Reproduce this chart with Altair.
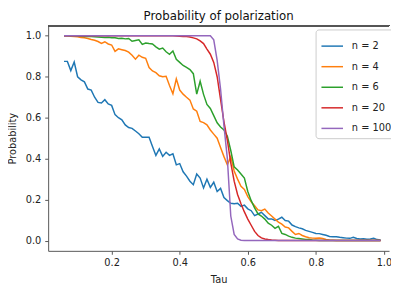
import altair as alt
import pandas as pd

tau = [0.06, 0.07, 0.08, 0.09,
       0.10, 0.11, 0.12, 0.13, 0.14, 0.15, 0.16, 0.17, 0.18, 0.19,
       0.20, 0.21, 0.22, 0.23, 0.24, 0.25, 0.26, 0.27, 0.28, 0.29,
       0.30, 0.31, 0.32, 0.33, 0.34, 0.35, 0.36, 0.37, 0.38, 0.39,
       0.40, 0.41, 0.42, 0.43, 0.44, 0.45, 0.46, 0.47, 0.48, 0.49,
       0.50, 0.51, 0.52, 0.53, 0.54, 0.55, 0.56, 0.57, 0.58, 0.59,
       0.60, 0.61, 0.62, 0.63, 0.64, 0.65, 0.66, 0.67, 0.68, 0.69,
       0.70, 0.71, 0.72, 0.73, 0.74, 0.75, 0.76, 0.77, 0.78, 0.79,
       0.80, 0.81, 0.82, 0.83, 0.84, 0.85, 0.86, 0.87, 0.88, 0.89,
       0.90, 0.91, 0.92, 0.93, 0.94, 0.95, 0.96, 0.97, 0.98, 0.99]

p_n2 = [0.875, 0.875, 0.83, 0.872,
        0.80, 0.785, 0.775, 0.74, 0.735, 0.70, 0.675, 0.672, 0.688, 0.667,
        0.66, 0.615, 0.60, 0.59, 0.565, 0.552, 0.548, 0.535, 0.522, 0.505,
        0.505, 0.505, 0.46, 0.416, 0.448, 0.411, 0.431, 0.416, 0.424, 0.37,
        0.376, 0.336, 0.315, 0.29, 0.273, 0.325, 0.305, 0.257, 0.30, 0.26,
        0.285, 0.24, 0.255, 0.21, 0.195, 0.182, 0.18, 0.182, 0.167, 0.173,
        0.155, 0.146, 0.122, 0.13, 0.138, 0.122, 0.106, 0.106, 0.098, 0.105,
        0.114, 0.098, 0.095, 0.076, 0.068, 0.062, 0.058, 0.05, 0.045, 0.04,
        0.035, 0.034, 0.03, 0.026, 0.02, 0.019, 0.019, 0.016, 0.014, 0.012,
        0.011, 0.016, 0.01, 0.008, 0.009, 0.007, 0.008, 0.011, 0.005, 0.003]

p_n4 = [1.0, 1.0, 0.998, 0.997,
        0.995, 0.992, 0.99, 0.987, 0.982, 0.978, 0.972, 0.963, 0.971, 0.96,
        0.955, 0.924, 0.936, 0.932, 0.928, 0.92, 0.905, 0.886, 0.905, 0.895,
        0.89, 0.845, 0.828, 0.82, 0.805, 0.80, 0.802, 0.757, 0.717, 0.79,
        0.735, 0.715, 0.70, 0.686, 0.643, 0.632, 0.582, 0.576, 0.565, 0.54,
        0.52, 0.50, 0.455, 0.41, 0.37, 0.41, 0.34, 0.30, 0.265, 0.25,
        0.215, 0.19, 0.17, 0.15, 0.146, 0.154, 0.135, 0.12, 0.105, 0.09,
        0.08, 0.066, 0.062, 0.045, 0.03, 0.035, 0.025, 0.019, 0.014, 0.012,
        0.011, 0.013, 0.01, 0.005, 0.003, 0.002, 0.001, 0.001, 0.0, 0.0,
        0.0, 0.0, 0.0, 0.0, 0.0, 0.0, 0.0, 0.0, 0.0, 0.0]

p_n6 = [1.0, 1.0, 1.0, 1.0,
        0.999, 0.998, 0.997, 0.996, 0.996, 0.995, 0.994, 0.993, 0.992, 0.993,
        0.99, 0.99, 0.987, 0.988, 0.985, 0.987, 0.973, 0.977, 0.98, 0.958,
        0.965, 0.962, 0.96, 0.946, 0.935, 0.94, 0.922, 0.91, 0.926, 0.885,
        0.87, 0.855, 0.846, 0.835, 0.815, 0.715, 0.778, 0.714, 0.665, 0.645,
        0.61, 0.575, 0.555, 0.54, 0.51, 0.44, 0.36, 0.345, 0.325, 0.305,
        0.24, 0.195, 0.16, 0.13, 0.12, 0.105, 0.085, 0.075, 0.06, 0.07,
        0.035, 0.03, 0.022, 0.016, 0.012, 0.01, 0.008, 0.006, 0.005, 0.003,
        0.002, 0.001, 0.001, 0.0, 0.0, 0.0, 0.0, 0.0, 0.0, 0.0,
        0.0, 0.0, 0.0, 0.0, 0.0, 0.0, 0.0, 0.0, 0.0, 0.0]

p_n20 = [1.0, 1.0, 1.0, 1.0,
         1.0, 1.0, 1.0, 1.0, 1.0, 1.0, 1.0, 1.0, 1.0, 1.0,
         1.0, 1.0, 1.0, 1.0, 1.0, 1.0, 1.0, 1.0, 1.0, 1.0,
         1.0, 1.0, 1.0, 1.0, 1.0, 1.0, 1.0, 1.0, 1.0, 0.999,
         0.998, 0.997, 0.996, 0.994, 0.99, 0.985, 0.975, 0.962, 0.935, 0.91,
         0.87, 0.80, 0.69, 0.58, 0.49, 0.38, 0.29, 0.225, 0.18, 0.14,
         0.105, 0.075, 0.045, 0.025, 0.013, 0.008, 0.005, 0.003, 0.002, 0.001,
         0.0, 0.0, 0.0, 0.0, 0.0, 0.0, 0.0, 0.0, 0.0, 0.0,
         0.0, 0.0, 0.0, 0.0, 0.0, 0.0, 0.0, 0.0, 0.0, 0.0,
         0.0, 0.0, 0.0, 0.0, 0.0, 0.0, 0.0, 0.0, 0.0, 0.0]

p_n100 = [1.0, 1.0, 1.0, 1.0,
          1.0, 1.0, 1.0, 1.0, 1.0, 1.0, 1.0, 1.0, 1.0, 1.0,
          1.0, 1.0, 1.0, 1.0, 1.0, 1.0, 1.0, 1.0, 1.0, 1.0,
          1.0, 1.0, 1.0, 1.0, 1.0, 1.0, 1.0, 1.0, 1.0, 1.0,
          1.0, 1.0, 1.0, 1.0, 1.0, 1.0, 1.0, 1.0, 1.0, 1.0,
          0.98, 0.88, 0.74, 0.56, 0.40, 0.12, 0.03, 0.008, 0.002, 0.0,
          0.0, 0.0, 0.0, 0.0, 0.0, 0.0, 0.0, 0.0, 0.0, 0.0,
          0.0, 0.0, 0.0, 0.0, 0.0, 0.0, 0.0, 0.0, 0.0, 0.0,
          0.0, 0.0, 0.0, 0.0, 0.0, 0.0, 0.0, 0.0, 0.0, 0.0,
          0.0, 0.0, 0.0, 0.0, 0.0, 0.0, 0.0, 0.0, 0.0, 0.0]

series_names = ["n = 2", "n = 4", "n = 6", "n = 20", "n = 100"]
series_values = [p_n2, p_n4, p_n6, p_n20, p_n100]
colors = ["#1f77b4", "#ff7f0e", "#2ca02c", "#d62728", "#9467bd"]
x_ticks = [0.2, 0.4, 0.6, 0.8, 1.0]
y_ticks = [0.0, 0.2, 0.4, 0.6, 0.8, 1.0]

rows = []
for name, vals in zip(series_names, series_values):
    for t, v in zip(tau, vals):
        rows.append({"Tau": t, "Probability": v, "series": name})
df = pd.DataFrame(rows)

W, H = 348, 230
FONT = "DejaVu Sans"

lines = alt.Chart(df).mark_line(strokeWidth=1.5, clip=True).encode(
    x=alt.X("Tau:Q",
            scale=alt.Scale(domain=[0.0135, 1.015], nice=False, zero=False),
            axis=alt.Axis(values=x_ticks, format=".1f", title="Tau")),
    y=alt.Y("Probability:Q",
            scale=alt.Scale(domain=[-0.05, 1.05], nice=False, zero=False),
            axis=alt.Axis(values=y_ticks, format=".1f", title="Probability")),
    color=alt.Color("series:N",
                    scale=alt.Scale(domain=series_names, range=colors),
                    legend=alt.Legend(title=None, orient="none", legendX=273, legendY=4,
                                      symbolType="stroke", symbolSize=484,
                                      symbolStrokeWidth=1.5, labelFontSize=10,
                                      labelFont=FONT, labelColor="#222",
                                      fillColor="white", strokeColor="#cccccc",
                                      cornerRadius=3, padding=5, rowPadding=4,
                                      labelOffset=8)),
)

top_frame = alt.Chart(df).mark_rule(color="#555", strokeWidth=1).encode(
    x=alt.value(0), x2=alt.value(W), y=alt.value(0)
)

chart = alt.layer(lines, top_frame).properties(
    width=W, height=H,
    title=alt.TitleParams("Probability of polarization", fontSize=12, font=FONT,
                          fontWeight="normal", color="#111", offset=2),
    autosize=alt.AutoSizeParams(type="none"),
    padding={"left": 41, "top": 15, "right": 2, "bottom": 34},
).configure_view(stroke=None).configure_axis(
    grid=False, domainColor="#555", tickColor="#555", tickSize=3.5,
    labelFont=FONT, labelFontSize=10, labelColor="#222",
    titleFont=FONT, titleFontSize=10, titleColor="#222", titleFontWeight="normal",
).configure_axisX(labelPadding=3, titlePadding=8).configure_axisY(labelPadding=4, titlePadding=8)

chart.save("out.html", embed_options={"renderer": "svg", "actions": False})
